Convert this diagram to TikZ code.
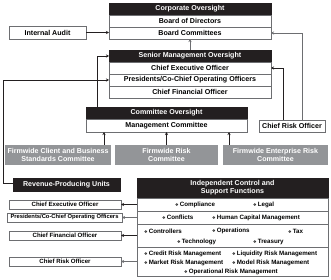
\documentclass[tikz,border=0pt]{standalone}
\usepackage{fontspec}
\setmainfont{Liberation Sans}
\newfontfamily\symfont{DejaVu Sans}
\usetikzlibrary{arrows.meta}
\definecolor{hdr}{HTML}{231F20}
\definecolor{edge}{HTML}{6D6E71}
\definecolor{cmt}{HTML}{939598}
\definecolor{ln}{HTML}{231F20}
\newcommand{\dm}{{\symfont\fontsize{4}{4}\selectfont ❖}\,}
\begin{document}
\begin{tikzpicture}[x=1pt,y=-1pt,
  base/.style={inner sep=0pt, outer sep=0pt, font=\fontsize{7.1}{8.3}\selectfont\bfseries, align=center},
  hdrbox/.style={base, fill=hdr, draw=hdr, text=white},
  rowbox/.style={base, fill=white, draw=edge, line width=0.6pt},
  cmtbox/.style={base, fill=cmt, text=white},
  sidebox/.style={base, fill=white, draw=edge, line width=0.6pt, font=\fontsize{6.1}{7}\selectfont\bfseries},
  item/.style={inner sep=0pt, anchor=west, font=\fontsize{6.2}{7}\selectfont\bfseries},
  conn/.style={draw=ln, line width=0.7pt, -{Stealth[length=3pt,width=3pt]}},
  connG/.style={conn, draw=edge},
]
\useasboundingbox (0,0) rectangle (331,280);
% Corporate oversight
\node[hdrbox, minimum width=162pt, minimum height=12pt] (corp) at (190,9) {Corporate Oversight};
\node[rowbox, minimum width=162pt, minimum height=12pt] (bod) at (190,21) {Board of Directors};
\node[rowbox, minimum width=162pt, minimum height=12pt] (bc) at (190,33) {Board Committees};
\node[rowbox, minimum width=77pt, minimum height=13pt] (ia) at (47.5,32.5) {Internal Audit};
% Senior management
\node[hdrbox, minimum width=162pt, minimum height=12pt] (smH) at (190,56) {Senior Management Oversight};
\node[rowbox, minimum width=162pt, minimum height=12pt] (ceo) at (190,68) {Chief Executive Officer};
\node[rowbox, minimum width=162pt, minimum height=12pt] (pres) at (190,80) {Presidents/Co-Chief Operating Officers};
\node[rowbox, minimum width=162pt, minimum height=12pt] (cfo) at (190,92) {Chief Financial Officer};
% Committee oversight
\node[hdrbox, minimum width=161pt, minimum height=12pt] (coH) at (166.5,113) {Committee Oversight};
\node[rowbox, minimum width=161pt, minimum height=13pt] (mc) at (166.5,125.5) {Management Committee};
\node[rowbox, minimum width=66pt, minimum height=12pt] (cro) at (292,126) {Chief Risk Officer};
% committees
\node[cmtbox, minimum width=106pt, minimum height=20pt] (g1) at (58,155) {Firmwide Client and Business\\Standards Committee};
\node[cmtbox, minimum width=103pt, minimum height=20pt] (g2) at (166.5,155) {Firmwide Risk\\Committee};
\node[cmtbox, minimum width=105pt, minimum height=20pt] (g3) at (275.5,155) {Firmwide Enterprise Risk\\Committee};
% revenue
\node[hdrbox, minimum width=107pt, minimum height=13pt] (rev) at (66.5,184.5) {Revenue-Producing Units};
% independent control
\node[hdrbox, minimum width=191pt, minimum height=20pt] (ind) at (232.5,188) {Independent Control and\\Support Functions};
\node[rowbox, minimum width=191pt, minimum height=13pt] (r1) at (232.5,204.5) {};
\node[rowbox, minimum width=191pt, minimum height=13pt] (r2) at (232.5,217.5) {};
\node[rowbox, minimum width=191pt, minimum height=23pt] (r3) at (232.5,235.5) {};
\node[rowbox, minimum width=191pt, minimum height=29pt] (r4) at (232.5,261.5) {};
\node[item] (i1) at (175,204.5) {\dm Compliance};
\node[item] (i2) at (253,204.5) {\dm Legal};
\node[item] (i3) at (162,217.5) {\dm Conflicts};
\node[item] (i4) at (212,217.5) {\dm Human Capital Management};
\node[item] (i5) at (144,231) {\dm Controllers};
\node[item] (i6) at (212,231) {\dm Operations};
\node[item] (i7) at (288,231) {\dm Tax};
\node[item] (i8) at (177,242) {\dm Technology};
\node[item] (i9) at (253,242) {\dm Treasury};
\node[item] (i10) at (144,254) {\dm Credit Risk Management};
\node[item] (i11) at (232,254) {\dm Liquidity Risk Management};
\node[item] (i12) at (144,263) {\dm Market Risk Management};
\node[item] (i13) at (232,263) {\dm Model Risk Management};
\node[item] (i14) at (184,271.5) {\dm Operational Risk Management};
% side boxes
\node[sidebox, minimum width=112pt, minimum height=9pt] (lceo) at (65,204.5) {Chief Executive Officer};
\node[sidebox, minimum width=115pt, minimum height=9pt, font=\fontsize{5.8}{7}\selectfont\bfseries] (lpres) at (64.5,217.5) {Presidents/Co-Chief Operating Officers};
\node[sidebox, minimum width=112pt, minimum height=9pt] (lcfo) at (65,235.5) {Chief Financial Officer};
\node[sidebox, minimum width=112pt, minimum height=9pt] (lcro) at (65,261.5) {Chief Risk Officer};
% connectors
\draw[conn] (ia.east) -- (bc.west |- ia.east);
\draw[connG] (smH.north) -- (bc.south);
\draw[conn] ([xshift=11pt]coH.north west) |- (smH.west);
\draw[conn] ([yshift=1.5pt]rev.west) -- ++(-10,0) |- (pres.west);
\draw[connG] ([xshift=10pt]cro.north) |- (bc.east);
\draw[conn] ([xshift=-9pt]cro.north) |- (ceo.east);
\draw[conn] ([xshift=46pt]g1.north) coordinate (t1) -- (t1 |- mc.south);
\draw[conn] (g2.north) -- (mc.south);
\draw[conn] ([xshift=-46.5pt]g3.north) coordinate (t3) -- (t3 |- mc.south);
\draw[conn] (r1.west |- lceo.east) -- (lceo.east);
\draw[connG] (r2.west |- lpres.east) -- (lpres.east);
\draw[conn] (r3.west |- lcfo.east) -- (lcfo.east);
\draw[connG] (r4.west |- lcro.east) -- (lcro.east);
\end{tikzpicture}
\end{document}
